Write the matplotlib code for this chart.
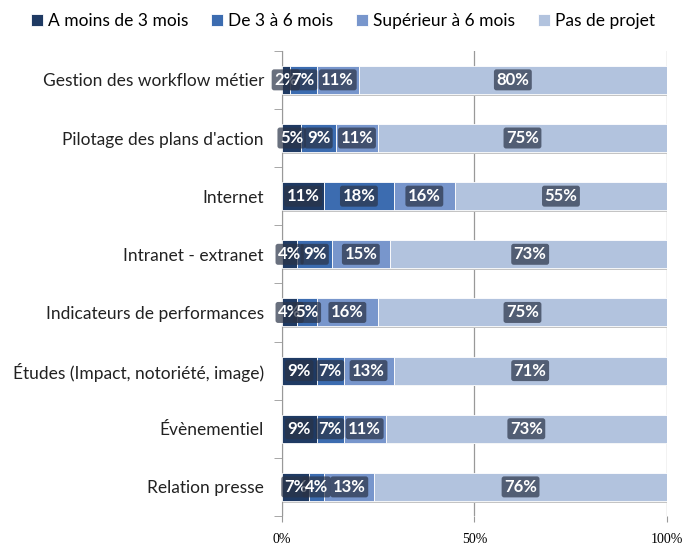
import numpy as np
import matplotlib
matplotlib.use('Agg')
import matplotlib.pyplot as plt

# Catégories (de haut en bas) et parts de chaque horizon de projet, en %
categories = [
    "Gestion des workflow métier",
    "Pilotage des plans d'action",
    "Internet",
    "Intranet - extranet",
    "Indicateurs de performances",
    "Études (Impact, notoriété, image)",
    "Évènementiel",
    "Relation presse",
]
moins_3_mois = [2, 5, 11, 4, 4, 9, 9, 7]
de_3_a_6_mois = [7, 9, 18, 9, 5, 7, 7, 4]
sup_6_mois = [11, 11, 16, 15, 16, 13, 11, 13]
pas_de_projet = [80, 75, 55, 73, 75, 71, 73, 76]

series = [
    ("A moins de 3 mois", moins_3_mois, '#1f3a63'),
    ("De 3 à 6 mois", de_3_a_6_mois, '#3c6cb0'),
    ("Supérieur à 6 mois", sup_6_mois, '#7896cc'),
    ("Pas de projet", pas_de_projet, '#b2c3de'),
]
xticks = [0, 50, 100]
xticklabels = ['0%', '50%', '100%']

plt.rcParams['font.family'] = ['Lato', 'DejaVu Sans']

fig = plt.figure(figsize=(6.86, 5.46), dpi=100)
ax = fig.add_axes([0.411, 0.055, 0.561, 0.852])

y = np.arange(len(categories))
left = np.zeros(len(categories))
for name, vals, color in series:
    vals = np.array(vals, dtype=float)
    # ombre fine sous chaque barre
    ax.barh(y + 0.03, vals, left=left, height=0.48, color='#c4c4c4',
            edgecolor='none', zorder=2)
    ax.barh(y, vals, left=left, height=0.48, color=color,
            edgecolor='white', linewidth=0.6, label=name, zorder=3)
    for yi, l, v in zip(y, left, vals):
        ax.text(l + v / 2, yi, f'{int(v)}%', ha='center', va='center',
                color='white', fontsize=12, fontweight='bold', zorder=5,
                bbox=dict(boxstyle='round,pad=0.15', fc='#2a3347',
                          ec='none', alpha=0.7))
    left += vals

ax.set_xlim(0, 100)
ax.set_ylim(len(categories) - 0.5, -0.5)
ax.set_yticks(y)
ax.set_yticklabels(categories, fontsize=12.5, color='#222222')
ax.set_yticks(np.arange(-0.5, len(categories)), minor=True)
ax.tick_params(axis='y', which='major', length=0, pad=13)
ax.tick_params(axis='y', which='minor', length=6, color='#999999')

ax.set_xticks(xticks)
ax.set_xticklabels(xticklabels, fontfamily='Liberation Serif', fontsize=10)
ax.tick_params(axis='x', length=4, color='#999999', pad=8)
ax.grid(axis='x', color='#999999', linewidth=0.9, zorder=0)

for s in ['top', 'right', 'bottom']:
    ax.spines[s].set_visible(False)
ax.spines['left'].set_color('#999999')

fig.legend(loc='upper center', bbox_to_anchor=(0.5, 1.005), ncol=4,
           frameon=False, fontsize=12.5, handlelength=0.7, handleheight=0.7,
           handletextpad=0.3, columnspacing=1.3)

fig.savefig('out.png', dpi=100)
